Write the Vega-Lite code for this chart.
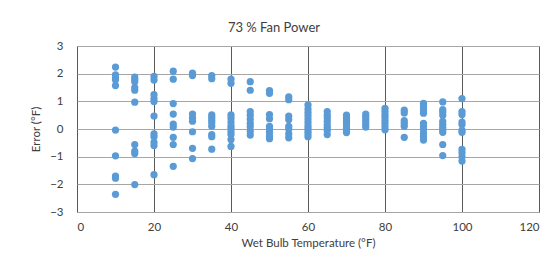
{
  "$schema": "https://vega.github.io/schema/vega-lite/v6.json",
  "autosize": {"type": "none"},
  "width": 462,
  "height": 166,
  "padding": {"left": 77, "top": 46, "right": 14, "bottom": 44},
  "background": "white",
  "title": {"text": "73 % Fan Power", "fontSize": 13, "font": "Lato", "fontWeight": "normal", "color": "#404040", "anchor": "middle", "dx": -34, "offset": 5},
  "config": {
    "view": {"stroke": "#8c8c8c", "strokeWidth": 1},
    "axis": {"labelFont": "Lato", "titleFont": "Lato", "labelColor": "#404040", "titleColor": "#404040", "labelFontSize": 11.5, "titleFontSize": 11.5, "titleFontWeight": "normal", "ticks": false, "domain": false}
  },
  "data": {"values": [
    {"t":10,"e":2.24},{"t":10,"e":1.96},{"t":10,"e":1.85},{"t":10,"e":1.78},{"t":10,"e":1.57},{"t":10,"e":-0.04},{"t":10,"e":-0.97},{"t":10,"e":-1.70},{"t":10,"e":-1.78},{"t":10,"e":-2.36},
    {"t":15,"e":1.88},{"t":15,"e":1.80},{"t":15,"e":1.71},{"t":15,"e":1.50},{"t":15,"e":1.40},{"t":15,"e":0.97},{"t":15,"e":-0.56},{"t":15,"e":-0.80},{"t":15,"e":-0.89},{"t":15,"e":-2.01},
    {"t":20,"e":1.90},{"t":20,"e":1.77},{"t":20,"e":1.24},{"t":20,"e":1.10},{"t":20,"e":0.99},{"t":20,"e":0.47},{"t":20,"e":-0.18},{"t":20,"e":-0.28},{"t":20,"e":-0.48},{"t":20,"e":-0.60},{"t":20,"e":-1.65},
    {"t":25,"e":2.09},{"t":25,"e":1.80},{"t":25,"e":0.92},{"t":25,"e":0.54},{"t":25,"e":0.18},{"t":25,"e":0.07},{"t":25,"e":-0.30},{"t":25,"e":-0.56},{"t":25,"e":-1.35},
    {"t":30,"e":2.02},{"t":30,"e":1.93},{"t":30,"e":0.54},{"t":30,"e":0.40},{"t":30,"e":0.28},{"t":30,"e":-0.10},{"t":30,"e":-0.70},{"t":30,"e":-1.07},
    {"t":35,"e":1.93},{"t":35,"e":1.82},{"t":35,"e":0.51},{"t":35,"e":0.42},{"t":35,"e":0.32},{"t":35,"e":0.22},{"t":35,"e":0.10},{"t":35,"e":-0.20},{"t":35,"e":-0.28},{"t":35,"e":-0.73},
    {"t":40,"e":1.80},{"t":40,"e":1.65},{"t":40,"e":0.51},{"t":40,"e":0.39},{"t":40,"e":0.25},{"t":40,"e":0.12},{"t":40,"e":0.02},{"t":40,"e":-0.10},{"t":40,"e":-0.20},{"t":40,"e":-0.38},{"t":40,"e":-0.63},
    {"t":45,"e":1.71},{"t":45,"e":1.40},{"t":45,"e":0.63},{"t":45,"e":0.50},{"t":45,"e":0.35},{"t":45,"e":0.20},{"t":45,"e":0.08},{"t":45,"e":-0.08},{"t":45,"e":-0.22},
    {"t":50,"e":1.39},{"t":50,"e":1.29},{"t":50,"e":0.52},{"t":50,"e":0.37},{"t":50,"e":0.10},{"t":50,"e":0.0},{"t":50,"e":-0.12},{"t":50,"e":-0.25},{"t":50,"e":-0.35},
    {"t":55,"e":1.16},{"t":55,"e":1.06},{"t":55,"e":0.47},{"t":55,"e":0.34},{"t":55,"e":0.10},{"t":55,"e":0.0},{"t":55,"e":-0.18},{"t":55,"e":-0.32},
    {"t":60,"e":0.87},{"t":60,"e":0.72},{"t":60,"e":0.60},{"t":60,"e":0.48},{"t":60,"e":0.36},{"t":60,"e":0.24},{"t":60,"e":0.12},{"t":60,"e":0.02},{"t":60,"e":-0.08},{"t":60,"e":-0.18},{"t":60,"e":-0.28},
    {"t":65,"e":0.63},{"t":65,"e":0.50},{"t":65,"e":0.40},{"t":65,"e":0.28},{"t":65,"e":0.15},{"t":65,"e":0.05},{"t":65,"e":-0.05},{"t":65,"e":-0.20},
    {"t":70,"e":0.50},{"t":70,"e":0.40},{"t":70,"e":0.32},{"t":70,"e":0.22},{"t":70,"e":0.12},{"t":70,"e":0.03},{"t":70,"e":-0.06},{"t":70,"e":-0.13},
    {"t":75,"e":0.54},{"t":75,"e":0.45},{"t":75,"e":0.36},{"t":75,"e":0.26},{"t":75,"e":0.16},{"t":75,"e":0.07},
    {"t":80,"e":0.75},{"t":80,"e":0.64},{"t":80,"e":0.53},{"t":80,"e":0.43},{"t":80,"e":0.32},{"t":80,"e":0.20},{"t":80,"e":0.08},{"t":80,"e":-0.03},
    {"t":85,"e":0.68},{"t":85,"e":0.58},{"t":85,"e":0.30},{"t":85,"e":0.20},{"t":85,"e":0.10},{"t":85,"e":-0.30},
    {"t":90,"e":0.93},{"t":90,"e":0.85},{"t":90,"e":0.75},{"t":90,"e":0.66},{"t":90,"e":0.57},{"t":90,"e":0.20},{"t":90,"e":0.09},{"t":90,"e":0.0},{"t":90,"e":-0.15},{"t":90,"e":-0.28},{"t":90,"e":-0.40},
    {"t":95,"e":0.98},{"t":95,"e":0.70},{"t":95,"e":0.61},{"t":95,"e":0.50},{"t":95,"e":0.28},{"t":95,"e":0.17},{"t":95,"e":0.06},{"t":95,"e":-0.03},{"t":95,"e":-0.12},{"t":95,"e":-0.56},{"t":95,"e":-0.96},
    {"t":100,"e":1.10},{"t":100,"e":0.63},{"t":100,"e":0.52},{"t":100,"e":0.25},{"t":100,"e":0.16},{"t":100,"e":-0.05},{"t":100,"e":-0.12},{"t":100,"e":-0.74},{"t":100,"e":-0.86},{"t":100,"e":-1.0},{"t":100,"e":-1.16}
  ]},
  "mark": {"type": "circle", "size": 52, "color": "#5b9bd5", "opacity": 1},
  "encoding": {
    "x": {"field": "t", "type": "quantitative", "scale": {"domain": [0, 120], "nice": false}, "axis": {"values": [0,20,40,60,80,100,120], "title": "Wet Bulb Temperature (°F)", "grid": true, "gridColor": "#595959", "gridWidth": 1, "labelPadding": 9, "titlePadding": 5}},
    "y": {"field": "e", "type": "quantitative", "scale": {"domain": [-3, 3], "nice": false}, "axis": {"values": [-3,-2,-1,0,1,2,3], "title": "Error (°F)", "grid": true, "gridColor": "#a6a6a6", "gridWidth": 1, "labelPadding": 14, "titlePadding": 8}}
  }
}
